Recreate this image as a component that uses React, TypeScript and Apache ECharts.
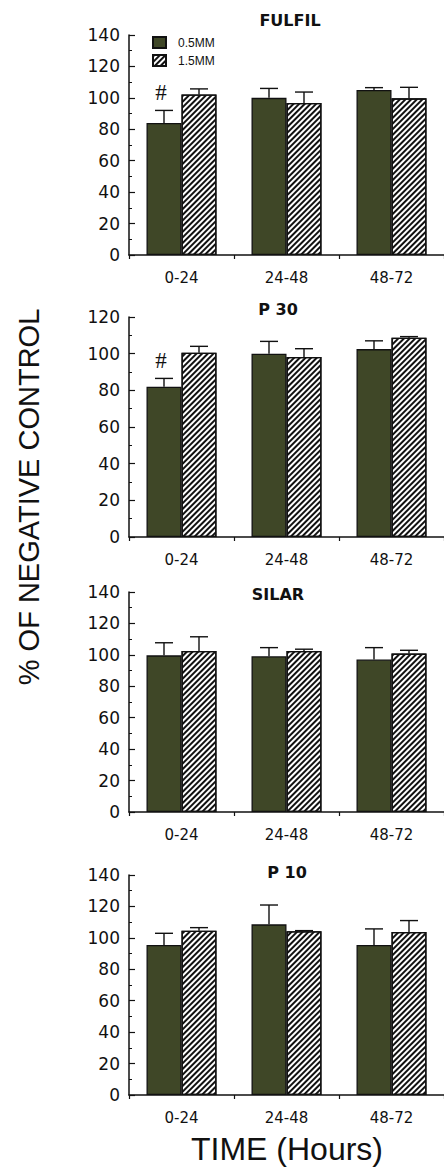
import React, { useEffect, useRef } from "react";
import * as echarts from "echarts";

// ---------- data ----------
const categories = ["0-24", "24-48", "48-72"];
const seriesNames = ["0.5MM", "1.5MM"];
const panelTitles = ["FULFIL", "P 30", "SILAR", "P 10"];
const panelMax = [140, 120, 140, 140];
const yTickInterval = 20;

const fulfilLow = [84, 100, 105];
const fulfilLowErr = [8, 6, 1.5];
const fulfilHigh = [102.2, 96.7, 99.7];
const fulfilHighErr = [3.5, 7, 7];

const p30Low = [82, 100, 102.5];
const p30LowErr = [4.5, 6.7, 4.5];
const p30High = [100.5, 98.2, 108.7];
const p30HighErr = [3.5, 4.5, 0.6];

const silarLow = [99.7, 99.1, 97];
const silarLowErr = [8, 5.5, 7.6];
const silarHigh = [102.5, 102.5, 100.8];
const silarHighErr = [9, 1.1, 2.1];

const p10Low = [95.5, 108.6, 95.5];
const p10LowErr = [7.4, 12.3, 10.2];
const p10High = [104.6, 104.2, 103.8];
const p10HighErr = [1.9, 0.4, 7.2];

const lowValues = [fulfilLow, p30Low, silarLow, p10Low];
const lowErrors = [fulfilLowErr, p30LowErr, silarLowErr, p10LowErr];
const highValues = [fulfilHigh, p30High, silarHigh, p10High];
const highErrors = [fulfilHighErr, p30HighErr, silarHighErr, p10HighErr];

// significance marks: [panel, category index, series index]
const markPanels = [0, 1];
const markCategory = [0, 0];
const markSeries = [0, 0];
const markText = "#";

const yAxisTitle = "% OF NEGATIVE CONTROL";
const xAxisTitle = "TIME (Hours)";

// ---------- layout / style ----------
const W = 444;
const H = 1167;
const GRID_LEFT = 129;
const GRID_W = 315;
const GRID_H = 220;
const gridTops = [35, 317, 592, 875];
const titleX = [290, 278, 278, 287];
const titleY = [20, 309, 594, 872];
const BAR_W = 35;
const CAP_W = 18;
const DARK = "#3f4727";
const NUM_FONT = "DejaVu Sans";

const hatchDecal = {
  symbol: "rect",
  symbolSize: 1,
  dashArrayX: [1, 0],
  dashArrayY: [1.6, 1.5],
  rotation: -Math.PI / 4,
  color: "#111",
  backgroundColor: "#ffffff",
};

export default function App() {
  const ref = useRef<HTMLDivElement>(null);

  useEffect(() => {
    if (!ref.current) return;
    const chart = echarts.init(ref.current, undefined, { renderer: "svg" });

    const grids: any[] = [];
    const xAxes: any[] = [];
    const yAxes: any[] = [];
    const series: any[] = [];

    for (let p = 0; p < 4; p++) {
      grids.push({ left: GRID_LEFT, top: gridTops[p], width: GRID_W, height: GRID_H });
      xAxes.push({
        type: "category",
        gridIndex: p,
        data: categories,
        axisLine: { lineStyle: { color: "#111", width: 1.5 } },
        axisTick: { show: true, length: 4, lineStyle: { color: "#111", width: 1.2 } },
        axisLabel: { color: "#111", fontFamily: NUM_FONT, fontSize: 15, margin: 15 },
        splitLine: { show: false },
      });
      yAxes.push({
        type: "value",
        gridIndex: p,
        min: 0,
        max: panelMax[p],
        interval: yTickInterval,
        axisLine: { show: true, lineStyle: { color: "#111", width: 1.5 } },
        axisTick: { show: true, inside: true, length: 6, lineStyle: { color: "#111", width: 1.2 } },
        minorTick: { show: true, splitNumber: 2, length: 3, lineStyle: { color: "#111", width: 1 } },
        axisLabel: { color: "#111", fontFamily: NUM_FONT, fontSize: 17, margin: 9 },
        splitLine: { show: false },
      });

      series.push({
        type: "bar",
        name: seriesNames[0],
        xAxisIndex: p,
        yAxisIndex: p,
        data: lowValues[p],
        barWidth: BAR_W,
        barGap: "0%",
        itemStyle: { color: DARK, borderColor: "#111", borderWidth: 1.3 },
        z: 2,
      });
      series.push({
        type: "bar",
        name: seriesNames[1],
        xAxisIndex: p,
        yAxisIndex: p,
        data: highValues[p],
        barWidth: BAR_W,
        barGap: "0%",
        itemStyle: { color: "#ffffff", borderColor: "#111", borderWidth: 1.3, decal: hatchDecal },
        z: 2,
      });

      const errData: number[][] = [];
      for (let c = 0; c < categories.length; c++) {
        errData.push([c, lowValues[p][c], lowErrors[p][c], -1]);
        errData.push([c, highValues[p][c], highErrors[p][c], 1]);
      }
      series.push({
        type: "custom",
        xAxisIndex: p,
        yAxisIndex: p,
        data: errData,
        encode: { x: 0, y: 1 },
        z: 5,
        silent: true,
        renderItem: (params: any, api: any) => {
          const cat = api.value(0);
          const val = api.value(1);
          const err = api.value(2);
          const side = api.value(3);
          const base = api.coord([cat, val]);
          const top = api.coord([cat, val + err]);
          const x = base[0] + (side * BAR_W) / 2;
          return {
            type: "group",
            children: [
              { type: "line", shape: { x1: x, y1: base[1], x2: x, y2: top[1] }, style: { stroke: "#111", lineWidth: 1.4 } },
              { type: "line", shape: { x1: x - CAP_W / 2, y1: top[1], x2: x + CAP_W / 2, y2: top[1] }, style: { stroke: "#111", lineWidth: 1.4 } },
            ],
          };
        },
      });
    }

    // significance marks
    for (let m = 0; m < markPanels.length; m++) {
      const p = markPanels[m];
      const c = markCategory[m];
      const s = markSeries[m];
      const v = s === 0 ? lowValues[p][c] + lowErrors[p][c] : highValues[p][c] + highErrors[p][c];
      const side = s === 0 ? -1 : 1;
      series.push({
        type: "custom",
        xAxisIndex: p,
        yAxisIndex: p,
        data: [[c, v, side]],
        encode: { x: 0, y: 1 },
        z: 6,
        silent: true,
        renderItem: (params: any, api: any) => {
          const pt = api.coord([api.value(0), api.value(1)]);
          return {
            type: "text",
            x: pt[0] + (api.value(2) * BAR_W) / 2 - 3,
            y: pt[1] - 18,
            style: {
              text: markText,
              fill: "#111",
              font: "23px 'Liberation Serif'",
              textAlign: "center",
              textVerticalAlign: "middle",
            },
          };
        },
      });
    }

    const graphics: any[] = [];
    for (let p = 0; p < 4; p++) {
      graphics.push({
        type: "text",
        x: titleX[p],
        y: titleY[p],
        style: {
          text: panelTitles[p],
          fill: "#111",
          font: `bold 16px '${NUM_FONT}'`,
          textAlign: "center",
          textVerticalAlign: "middle",
        },
      });
    }
    graphics.push({
      type: "text",
      x: 29,
      y: 497,
      rotation: Math.PI / 2,
      style: {
        text: yAxisTitle,
        fill: "#111",
        font: "29px 'Liberation Sans'",
        textAlign: "center",
        textVerticalAlign: "middle",
      },
    });
    graphics.push({
      type: "text",
      x: 287,
      y: 1149,
      style: {
        text: xAxisTitle,
        fill: "#111",
        font: "32px 'Liberation Sans'",
        textAlign: "center",
        textVerticalAlign: "middle",
      },
    });

    chart.setOption({
      animation: false,
      backgroundColor: "#ffffff",
      legend: {
        data: seriesNames,
        orient: "vertical",
        left: 152,
        top: 36,
        icon: "rect",
        itemWidth: 13,
        itemHeight: 11,
        itemGap: 5,
        padding: 0,
        selectedMode: false,
        textStyle: { color: "#111", fontFamily: "Liberation Sans", fontSize: 12, lineHeight: 11, padding: [0, 0, 0, 7] },
      },
      grid: grids,
      xAxis: xAxes,
      yAxis: yAxes,
      series,
      graphic: graphics,
    });

    return () => chart.dispose();
  }, []);

  return (
    <div
      ref={ref}
      style={{ position: "absolute", left: 0, top: 0, width: W, height: H, background: "#fff" }}
    />
  );
}
